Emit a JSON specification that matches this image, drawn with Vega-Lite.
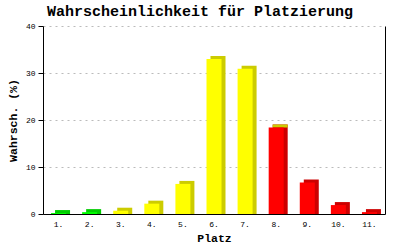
{
  "$schema": "https://vega.github.io/schema/vega-lite/v6.json",
  "autosize": "none",
  "width": 342,
  "height": 188,
  "padding": {"left": 43, "top": 26, "right": 15, "bottom": 36},
  "background": "white",
  "config": {
    "font": "Liberation Mono",
    "view": {"stroke": null},
    "axis": {"labelColor": "black", "titleColor": "black", "domainColor": "black", "tickColor": "black", "labelFontSize": 8, "titleFontSize": 11.5, "titleFontWeight": "bold", "labelFont": "Liberation Mono", "titleFont": "Liberation Mono"}
  },
  "title": {"text": "Wahrscheinlichkeit für Platzierung", "font": "Liberation Mono", "fontSize": 15, "fontWeight": "bold", "color": "black", "anchor": "middle", "dx": -14, "offset": 3},
  "data": {"values": [
    {"platz": "1.", "wert": 0.2, "gruppe": "gruen"},
    {"platz": "2.", "wert": 0.4, "gruppe": "gruen"},
    {"platz": "3.", "wert": 0.7, "gruppe": "gelb"},
    {"platz": "4.", "wert": 2.2, "gruppe": "gelb"},
    {"platz": "5.", "wert": 6.4, "gruppe": "gelb"},
    {"platz": "6.", "wert": 33.0, "gruppe": "gelb"},
    {"platz": "7.", "wert": 30.9, "gruppe": "gelb"},
    {"platz": "8.", "wert": 18.4, "gruppe": "rot"},
    {"platz": "9.", "wert": 6.7, "gruppe": "rot"},
    {"platz": "10.", "wert": 1.9, "gruppe": "rot"},
    {"platz": "11.", "wert": 0.4, "gruppe": "rot"}
  ]},
  "encoding": {
    "x": {"field": "platz", "type": "ordinal", "sort": null, "title": "Platz",
      "axis": {"labelAngle": 0, "ticks": false, "labelPadding": 6, "titlePadding": 4, "domainWidth": 1}}
  },
  "layer": [
    {
      "mark": {"type": "bar", "size": 15, "xOffset": 4, "yOffset": -3},
      "encoding": {
        "y": {"field": "wert", "type": "quantitative", "scale": {"domain": [0, 40], "nice": false},
          "axis": {"orient": "right", "labels": false, "ticks": false, "grid": false, "title": null, "domainColor": "black"}},
        "y2": {"datum": 0},
        "color": {"field": "gruppe", "type": "nominal", "legend": null,
          "scale": {"domain": ["gruen", "gelb", "rot"], "range": ["#00cc00", "#cccc00", "#cc0000"]}}
      }
    },
    {
      "transform": [{"filter": "datum.platz === '8.'"}],
      "mark": {"type": "bar", "size": 15, "xOffset": 4, "yOffset": -3, "color": "#cccc00"},
      "encoding": {
        "y": {"field": "wert", "type": "quantitative", "axis": null},
        "y2": {"field": "wert"}
      }
    },
    {
      "mark": {"type": "bar", "size": 15},
      "encoding": {
        "y": {"field": "wert", "type": "quantitative", "title": "Wahrsch. (%)",
          "axis": {"values": [0, 10, 20, 30, 40], "tickSize": 5, "labelPadding": 3, "titlePadding": 7, "grid": true, "gridColor": "#bbbbbb", "gridDash": [2, 4]}},
        "y2": {"datum": 0},
        "color": {"field": "gruppe", "type": "nominal", "legend": null,
          "scale": {"domain": ["gruen", "gelb", "rot"], "range": ["#00ff00", "#ffff00", "#ff0000"]}}
      }
    }
  ],
  "resolve": {"axis": {"y": "independent"}, "scale": {"color": "independent"}}
}
